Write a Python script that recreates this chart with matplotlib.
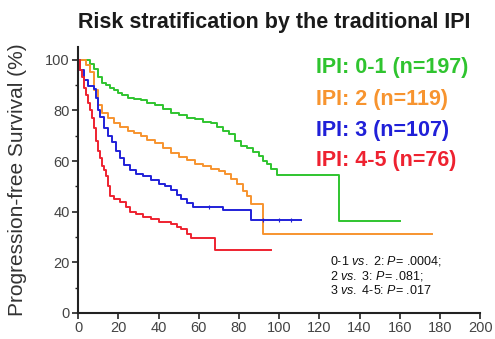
"""
Kaplan-Meier style PFS curves by traditional IPI risk group.
"""
import matplotlib
matplotlib.use('Agg')
import matplotlib.pyplot as plt
from matplotlib.ticker import MultipleLocator

plt.rcParams['font.family'] = ['Liberation Sans', 'DejaVu Sans']
plt.rcParams['mathtext.fontset'] = 'custom'
plt.rcParams['mathtext.it'] = 'Liberation Sans:italic'
plt.rcParams['mathtext.rm'] = 'Liberation Sans'

# step breakpoints (months, % progression-free)
green_t = [0, 5, 6, 8, 10, 12, 14, 16, 18, 20, 22, 25, 28, 31, 34, 38, 42, 46, 50,
           54, 58, 62, 66, 69, 72, 75, 78, 81, 84, 87, 90, 92, 94, 96, 99, 130, 160]
green_s = [100, 100, 98.5, 96.5, 93, 91, 90, 89, 88, 87, 86, 85, 84.5, 84, 83, 82, 80.5,
           79, 78, 77, 76.5, 75.5, 75, 73.5, 72, 70.5, 68, 66, 65, 63.5, 62, 60, 59, 57,
           54.5, 36.4, 36.4]

orange_t = [0, 4, 6, 8, 10, 12, 15, 18, 21, 25, 28, 31, 34, 38, 42, 46, 50, 54, 58, 62,
            66, 70, 73, 76, 79, 82, 84, 86, 92, 176]
orange_s = [100, 98, 95, 88, 82, 79, 77, 75, 73.5, 72, 71, 70, 68.5, 67, 65, 63, 61.5,
            60.5, 59, 58, 57, 56, 55, 53, 51, 48, 46, 43, 31, 31]

blue_t = [0, 1, 3, 5, 8, 9, 10, 11, 13, 15, 17, 19, 21, 23, 26, 29, 32, 36, 40, 43, 46,
          49, 51, 54, 57, 72, 86, 111]
blue_s = [100, 96, 92, 89.5, 88.5, 85, 80, 77.5, 73, 70, 67.5, 64, 61, 58.5, 56.5, 55,
          54, 52.5, 51, 50, 48.6, 46.5, 45, 43.5, 42, 40.7, 36.8, 36.8]

red_t = [0, 1, 2, 3, 4, 5, 6, 7, 8, 9, 10, 11, 12, 13, 14, 15, 16, 18, 21, 24, 26, 29,
         32, 36, 40, 46, 49, 51, 54, 56, 68, 96]
red_s = [100, 96, 93, 89, 86, 83, 80, 77, 73, 68, 64, 61, 58, 56.5, 54, 50, 46, 45, 44,
         42, 40, 39, 38, 37, 36, 35, 34, 33, 31, 29.6, 24.8, 24.8]

# censoring marks on the flat tails (only a few are visible)
censor = {
    'green': [],
    'orange': [],
    'blue': [65, 92, 100, 106],
    'red': [],
}

groups = ['IPI: 0-1 (n=197)', 'IPI: 2 (n=119)', 'IPI: 3 (n=107)', 'IPI: 4-5 (n=76)']
colors = {'green': '#2fc42f', 'orange': '#f7942f', 'blue': '#2020d8', 'red': '#ee2230'}
curves = {
    'green': (green_t, green_s),
    'orange': (orange_t, orange_s),
    'blue': (blue_t, blue_s),
    'red': (red_t, red_s),
}

pvals = [r'0-1 $\it{vs.}$ 2: $\it{P}$= .0004;',
         r'2 $\it{vs.}$ 3: $\it{P}$= .081;',
         r'3 $\it{vs.}$ 4-5: $\it{P}$= .017']


def surv_at(t, s, x):
    val = s[0]
    for ti, si in zip(t, s):
        if ti <= x:
            val = si
    return val


fig = plt.figure(figsize=(4.95, 3.39), dpi=100)
ax = fig.add_axes([0.158, 0.077, 0.812, 0.784])

for key, (t, s) in curves.items():
    ax.step(t, s, where='post', color=colors[key], linewidth=1.4)
    cx = censor[key]
    if cx:
        cy = [surv_at(t, s, x) for x in cx]
        ax.plot(cx, cy, linestyle='none', marker='|', markersize=2.5,
                markeredgewidth=0.8, color=colors[key])

ax.set_xlim(0, 200)
ax.set_ylim(0, 105)
ax.xaxis.set_major_locator(MultipleLocator(20))
ax.yaxis.set_major_locator(MultipleLocator(20))
ax.yaxis.set_minor_locator(MultipleLocator(10))
ax.spines['top'].set_visible(False)
ax.spines['right'].set_visible(False)
for sp in ['left', 'bottom']:
    ax.spines[sp].set_linewidth(1.5)
    ax.spines[sp].set_color('#222222')
ax.tick_params(which='major', length=4, width=1.2, labelsize=10.5,
               colors='#222222', labelcolor='#444444', pad=2)
ax.tick_params(which='minor', length=2.5, width=1.0, colors='#222222')

ax.set_ylabel('Progression-free Survival (%)', fontsize=15, color='#333333')
ax.yaxis.set_label_coords(-0.128, 0.5)

fig.text(0.553, 0.935, 'Risk stratification by the traditional IPI',
         ha='center', va='center', fontsize=15.5, fontweight='bold', color='#1a1a1a')

# group labels
for i, (name, key) in enumerate(zip(groups, ['green', 'orange', 'blue', 'red'])):
    fig.text(316 / 495, 1 - (68 + 31 * i) / 339, name, ha='left', va='center',
             fontsize=15.5, fontweight='bold', color=colors[key])

for i, line in enumerate(pvals):
    fig.text(330 / 495, 1 - (261 + 15 * i) / 339, line, ha='left', va='center',
             fontsize=9, color='#111111')

fig.savefig('out.png', dpi=100)
